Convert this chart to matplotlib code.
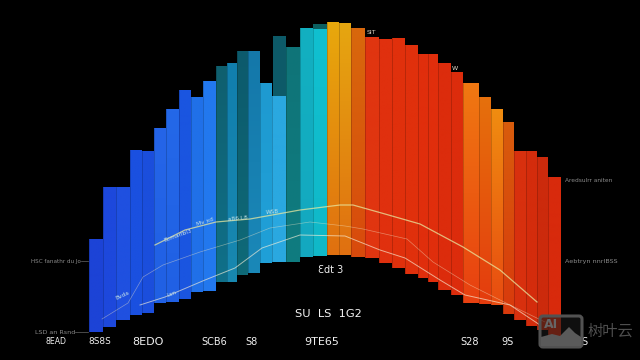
import numpy as np
import matplotlib
matplotlib.use("Agg")
import matplotlib.pyplot as plt
from matplotlib.colors import to_rgb
from matplotlib.patches import FancyBboxPatch, Polygon

plt.rcParams['font.family'] = ['DejaVu Sans', 'Noto Sans CJK SC']

# bords des barres, haut et bas (axe vertical 0-360 depuis le bas)
edges = [89, 103, 116, 130, 142, 154, 166, 179, 191, 203, 216, 227, 237, 248, 260, 272, 286, 300, 313,
         327, 339, 351, 365, 379, 392, 405, 418, 428, 438, 451, 463, 479, 491, 503, 514, 526, 537, 548, 561]
tops = [121, 173, 173, 210, 209, 232, 251, 270, 263, 279, 294, 297, 309, 309, 277, 264, 313, 332, 331,
        338, 337, 332, 323, 321, 322, 315, 306, 306, 297, 288, 277, 263, 251, 238, 209, 209, 203, 183]
bottoms = [28, 33, 40, 45, 47, 57, 58, 61, 68, 69, 78, 78, 85, 87, 97, 98, 98, 103, 104,
           105, 105, 103, 102, 97, 92, 86, 82, 78, 70, 65, 57, 56, 55, 46, 40, 34, 30, 24]
colors_top = ['#1c43d6', '#1d48dc', '#1f50e0', '#1a50e0', '#1b4edc', '#2565e8', '#2468e8', '#1a55e0', '#2070e8',
              '#2278ee', '#0f5f6e', '#117fae', '#0c5a6c', '#1478aa', '#1e9ad0', '#2aa8e0', '#0f7478', '#12b0c0',
              '#10c0d0', '#e8a80c', '#e6a610', '#d8680c', '#e03510', '#e0300e', '#e0300c', '#e0300c', '#e02e0c',
              '#e02e0c', '#dc2c0c', '#dc2c0c', '#f07812', '#e6700c', '#f08c10', '#d85c0c', '#d8300e', '#d42c0c',
              '#cc2a0c', '#d82a0c']
colors_bottom = ['#1c43d6', '#1d48dc', '#1f50e0', '#1a50e0', '#1b4edc', '#2060e4', '#2060e4', '#1a55e0', '#2070e8',
                 '#2278ee', '#10708a', '#1888b0', '#0f6a78', '#1a88b8', '#20a0d8', '#2aa8e0', '#0f7c80', '#14a8c0',
                 '#10b8c8', '#e07010', '#e07010', '#d84a0c', '#e03510', '#e0300e', '#e0300c', '#e0300c', '#e02e0c',
                 '#e02e0c', '#dc2c0c', '#dc2c0c', '#e84010', '#e43c0e', '#e84c10', '#d83a0c', '#d8300e', '#d42c0c',
                 '#cc2a0c', '#d82a0c']

# barres sombres qui depassent derriere
back_x = [273, 313]
back_w = [13, 14]
back_top = [324, 336]
back_color = ['#0d5a68', '#0c5f60']

upper_x = [155, 185, 216, 250, 300, 340, 353, 385, 420, 463, 500, 537]
upper_y = [115, 130, 138, 141, 150, 155, 155, 146, 136, 113, 90, 58]
middle_x = [102, 128, 143, 163, 200, 240, 270, 310, 345, 363, 407, 433, 470, 510, 545]
middle_y = [41, 57, 83, 95, 108, 120, 132, 138, 134, 131, 121, 98, 75, 55, 38]
lower_x = [140, 165, 205, 235, 262, 300, 345, 355, 380, 405, 440, 465, 510, 540]
lower_y = [55, 63, 80, 92, 112, 125, 124, 120, 110, 102, 80, 65, 55, 35]

bottom_labels = ['8EAD', '8S8S', '8EDO', 'SCB6', 'S8', '9TE65', 'S28', '9S', 'S']
bottom_pos = [56, 100, 148, 214, 252, 322, 470, 508, 584]
bottom_size = [5.6, 6.4, 8, 7, 7, 8, 7, 7, 7]

fig = plt.figure(figsize=(6.4, 3.6), dpi=100, facecolor='black')
ax = fig.add_axes([0, 0, 1, 1])
ax.set_facecolor('black')
ax.set_xlim(0, 640)
ax.set_ylim(0, 360)
ax.axis('off')

ax.bar(back_x, np.array(back_top) - 120, width=back_w, bottom=120, color=back_color, align='edge', zorder=1)

left = np.array(edges[:-1])
width = np.diff(edges)
bars = ax.bar(left, np.array(tops) - np.array(bottoms), width=width, bottom=bottoms,
              color=colors_top, align='edge', zorder=2)
# degrade vertical dans chaque barre
for i, b in enumerate(bars):
    c1 = np.array(to_rgb(colors_top[i]))
    c2 = np.array(to_rgb(colors_bottom[i]))
    t = np.linspace(0, 1, 60)[:, None]
    grad = (c1 * (1 - t) + c2 * t)[:, None, :]
    im = ax.imshow(grad, extent=[left[i], left[i] + width[i], bottoms[i], tops[i]],
                   aspect='auto', zorder=2.1, interpolation='bilinear')
    im.set_clip_path(b)
    ax.plot([left[i], left[i]], [bottoms[i], tops[i]], color='black', lw=0.5, alpha=0.25, zorder=2.2)
ax.set_xlim(0, 640)
ax.set_ylim(0, 360)

ax.plot(upper_x, upper_y, color='#e8e8a0', lw=0.9, alpha=0.75, zorder=3)
ax.plot(middle_x, middle_y, color='#f4e8c8', lw=0.5, alpha=0.45, zorder=3)
ax.plot(lower_x, lower_y, color='#f8f0d8', lw=0.7, alpha=0.65, zorder=3)

# petites annotations le long des courbes
txt = dict(color='#c8e4e8', fontsize=4.2, zorder=4, ha='center', va='center')
ax.text(178, 124, 'Bcmarlbl3', rotation=20, **txt)
ax.text(205, 138, 'Mv xd', rotation=18, **txt)
ax.text(238, 141, 'a86 L8', rotation=5, **txt)
ax.text(272, 148, 'WS8', rotation=5, **txt)
ax.text(122, 65, 'Bvda', rotation=25, **txt)
ax.text(172, 66, 'Lsn', rotation=20, **txt)
ax.text(371, 327, 'SIT', color='#d8d0c0', fontsize=4.5, ha='center', va='center', zorder=4)
ax.text(455, 292, 'W', color='#e8e0d0', fontsize=4.5, ha='center', va='center', zorder=4)

grey = dict(color='#8a8a8a', va='center')
ax.text(81, 99, 'HSC fanathr du Jo', ha='right', fontsize=4.1, **grey)
ax.plot([81, 88], [99, 99], color='#666666', lw=0.5)
ax.text(75, 28, 'LSD an Rsnd', ha='right', fontsize=4.6, **grey)
ax.plot([75, 88], [28, 28], color='#666666', lw=0.5)
ax.text(565, 179, 'Aredsulrr aniten', ha='left', fontsize=4.2, **grey)
ax.text(565, 99, 'Aebtryn nnrlBSS', ha='left', fontsize=4.6, **grey)

for x, s, fs in zip(bottom_pos, bottom_labels, bottom_size):
    ax.text(x, 18, s, zorder=4, color='#f0f0f0', fontsize=fs, ha='center', va='center')
ax.text(328, 46, 'SU  LS  1G2', zorder=4, color='#f4f4f4', fontsize=8.2, ha='center', va='center')
ax.text(331, 90, 'Ɛdt 3', zorder=4, color='#f0f0f0', fontsize=7, ha='center', va='center')

# filigrane
ax.add_patch(FancyBboxPatch((540, 13), 42, 31, boxstyle='round,pad=0,rounding_size=3',
                            fc=(0.1, 0.1, 0.1, 0.6), ec='#525252', lw=2.2, zorder=5))
ax.add_patch(Polygon([(541, 14), (541, 23), (552, 26), (560, 24), (569, 33), (575, 27), (581, 23), (581, 14)],
                     closed=True, fc='#5a5a5a', ec='none', zorder=6))
ax.text(551, 36, 'AI', color='#666666', fontsize=9, fontweight='bold', ha='center', va='center', zorder=6)
ax.text(610, 29, '树叶云', color='#4e4e4e', fontsize=11, ha='center', va='center', zorder=6,
        family=['Noto Sans CJK SC', 'DejaVu Sans'])

fig.savefig('out.png', dpi=100, facecolor='black')
